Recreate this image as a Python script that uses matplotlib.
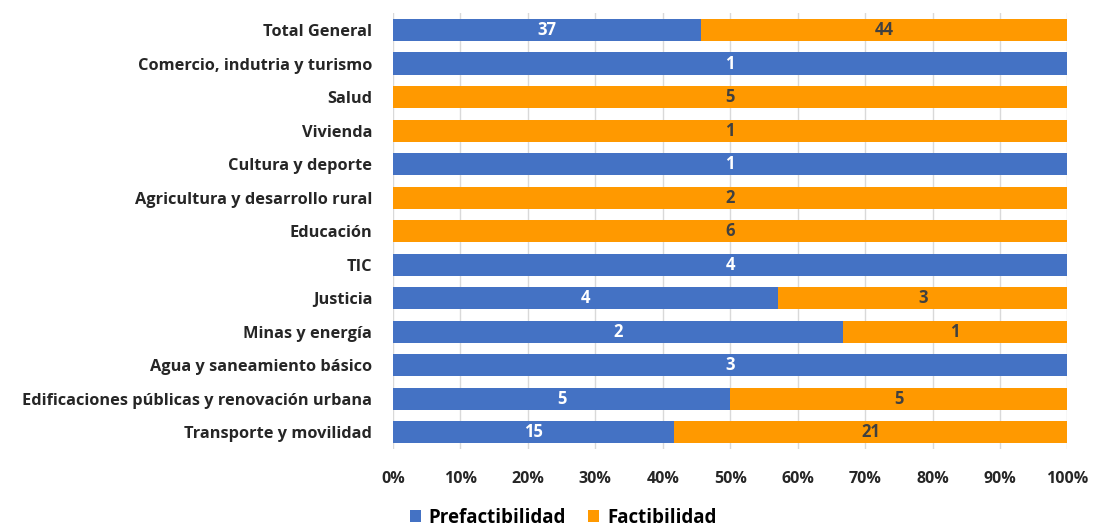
import matplotlib.pyplot as plt
import numpy as np
from matplotlib.ticker import PercentFormatter

plt.rcParams["font.family"] = ["Open Sans", "DejaVu Sans"]
plt.rcParams["font.weight"] = "bold"

categorias = ["Transporte y movilidad", "Edificaciones públicas y renovación urbana",
              "Agua y saneamiento básico", "Minas y energía", "Justicia", "TIC",
              "Educación", "Agricultura y desarrollo rural", "Cultura y deporte",
              "Vivienda", "Salud", "Comercio, indutria y turismo", "Total General"]
prefactibilidad = [15, 5, 3, 2, 4, 4, 0, 0, 1, 0, 0, 1, 37]
factibilidad = [21, 5, 0, 1, 3, 0, 6, 2, 0, 1, 5, 0, 44]

pre = np.array(prefactibilidad, dtype=float)
fac = np.array(factibilidad, dtype=float)
tot = pre + fac
pre_p = pre / tot
fac_p = fac / tot

fig = plt.figure(figsize=(10.93, 5.29), dpi=100)
ax = fig.add_axes([0.3596, 0.151, 0.617, 0.824])

y = np.arange(len(categorias))
azul = "#4472C4"
naranja = "#FF9900"
ax.barh(y, pre_p, height=0.66, color=azul, label="Prefactibilidad", zorder=2)
ax.barh(y, fac_p, left=pre_p, height=0.66, color=naranja, label="Factibilidad", zorder=2)

for i in range(len(categorias)):
    if pre[i] > 0:
        ax.text(pre_p[i] / 2, y[i], str(int(pre[i])), ha="center", va="center",
                color="white", fontsize=12, fontweight="bold")
    if fac[i] > 0:
        ax.text(pre_p[i] + fac_p[i] / 2, y[i], str(int(fac[i])), ha="center", va="center",
                color="#404040", fontsize=12, fontweight="bold")

ax.set_xlim(0, 1)
ax.set_ylim(-0.5, len(categorias) - 0.5)
ax.set_xticks(np.arange(0, 1.01, 0.1))
ax.xaxis.set_major_formatter(PercentFormatter(1.0, decimals=0))
ax.set_yticks(y)
ax.set_yticklabels(categorias)
ax.tick_params(axis="both", length=0, colors="#262626")
ax.tick_params(axis="x", pad=16, labelsize=11.5)
ax.tick_params(axis="y", pad=15, labelsize=11.8)
ax.grid(axis="x", color="#d9d9d9", linewidth=1, zorder=0)
for s in ax.spines.values():
    s.set_visible(False)

fig.legend(loc="lower center", bbox_to_anchor=(0.515, -0.03), ncol=2, frameon=False,
           fontsize=13.5, handlelength=0.6, handleheight=0.6, columnspacing=1.2,
           handletextpad=0.4)

fig.savefig("out.png", dpi=100)
